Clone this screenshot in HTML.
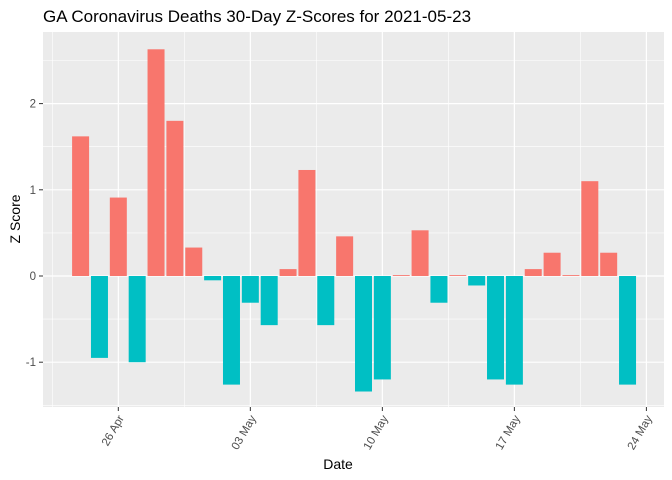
<!DOCTYPE html>
<html><head><meta charset="utf-8"><style>
body{margin:0;background:#fff;}
svg{font-family:"Liberation Sans",Arial,sans-serif;display:block;}
</style></head><body>
<svg id="chart" width="672" height="480">
<text x="43" y="22" font-size="17" fill="#000">GA Coronavirus Deaths 30-Day Z-Scores for 2021-05-23</text>
<rect x="43" y="32" width="621" height="375" fill="#ebebeb"/>
<g id="grid"></g>
<g id="bars"></g>
<g id="axes"></g>
<text x="338" y="469" font-size="14" text-anchor="middle" fill="#000">Date</text>
<text transform="translate(20,219) rotate(-90)" font-size="14" text-anchor="middle" fill="#000">Z Score</text>
</svg>
<script>
const values = [1.62,-0.95,0.91,-1.0,2.63,1.80,0.33,-0.05,-1.26,-0.31,-0.57,0.08,1.23,-0.57,0.46,-1.34,-1.2,0.01,0.53,-0.31,0.01,-0.11,-1.2,-1.26,0.08,0.27,0.01,1.1,0.27,-1.26];
const startDay = 0; // day index 0 = 24 Apr
const xTickLabels = ["26 Apr","03 May","10 May","17 May","24 May"];
const xTickDaysAll = [2,9,16,23,30];
const yTicks = [-1,0,1,2];
const yTickLabels = ["-1","0","1","2"];

const NS="http://www.w3.org/2000/svg";
const pxPerDay=18.86, x0=80.6;
const X=d=>x0+d*pxPerDay;
const Y=v=>276-v*86.2;
function mk(tag,attrs,parent){const e=document.createElementNS(NS,tag);for(const k in attrs)e.setAttribute(k,attrs[k]);parent.appendChild(e);return e;}
const grid=document.getElementById('grid'),bars=document.getElementById('bars'),axes=document.getElementById('axes');
for(let v=-1.5;v<=2.5;v+=1){const l=mk('line',{x1:43,x2:664,y1:Y(v),y2:Y(v),stroke:'#fff','stroke-width':0.6},grid);

}
for(const d of xTickDaysAll){const xm=X(d-3.5);if(xm>43&&xm<664){const l=mk('line',{x1:xm,x2:xm,y1:32,y2:407,stroke:'#fff','stroke-width':0.6},grid);

}}
yTicks.forEach((v,i)=>{const l=mk('line',{x1:43,x2:664,y1:Y(v),y2:Y(v),stroke:'#fff','stroke-width':1.2},grid);


mk('line',{x1:39,x2:43,y1:Y(v),y2:Y(v),stroke:'#333','stroke-width':1},axes);
const t=mk('text',{x:36,y:Y(v)+4,'font-size':11.5,'text-anchor':'end',fill:'#4d4d4d'},axes);t.textContent=yTickLabels[i];

});
xTickDaysAll.forEach((d,i)=>{const x=X(d);
const l=mk('line',{x1:x,x2:x,y1:32,y2:407,stroke:'#fff','stroke-width':1.2},grid);


mk('line',{x1:x,x2:x,y1:407,y2:411,stroke:'#333','stroke-width':1},axes);
const t=mk('text',{transform:`translate(${x+6},418) rotate(-60)`,'font-size':11.5,'text-anchor':'end',fill:'#4d4d4d'},axes);t.textContent=xTickLabels[i];

});
values.forEach((v,i)=>{const x=X(startDay+i)-8.5;const h=Math.max(Math.abs(Y(v)-Y(0)),0.8);
const r=mk('rect',{x:x,y:v>=0?Y(0)-h:Y(0),width:17,height:h,fill:v>=0?'#f8766d':'#00bfc4'},bars);

});
</script>
</body></html>
